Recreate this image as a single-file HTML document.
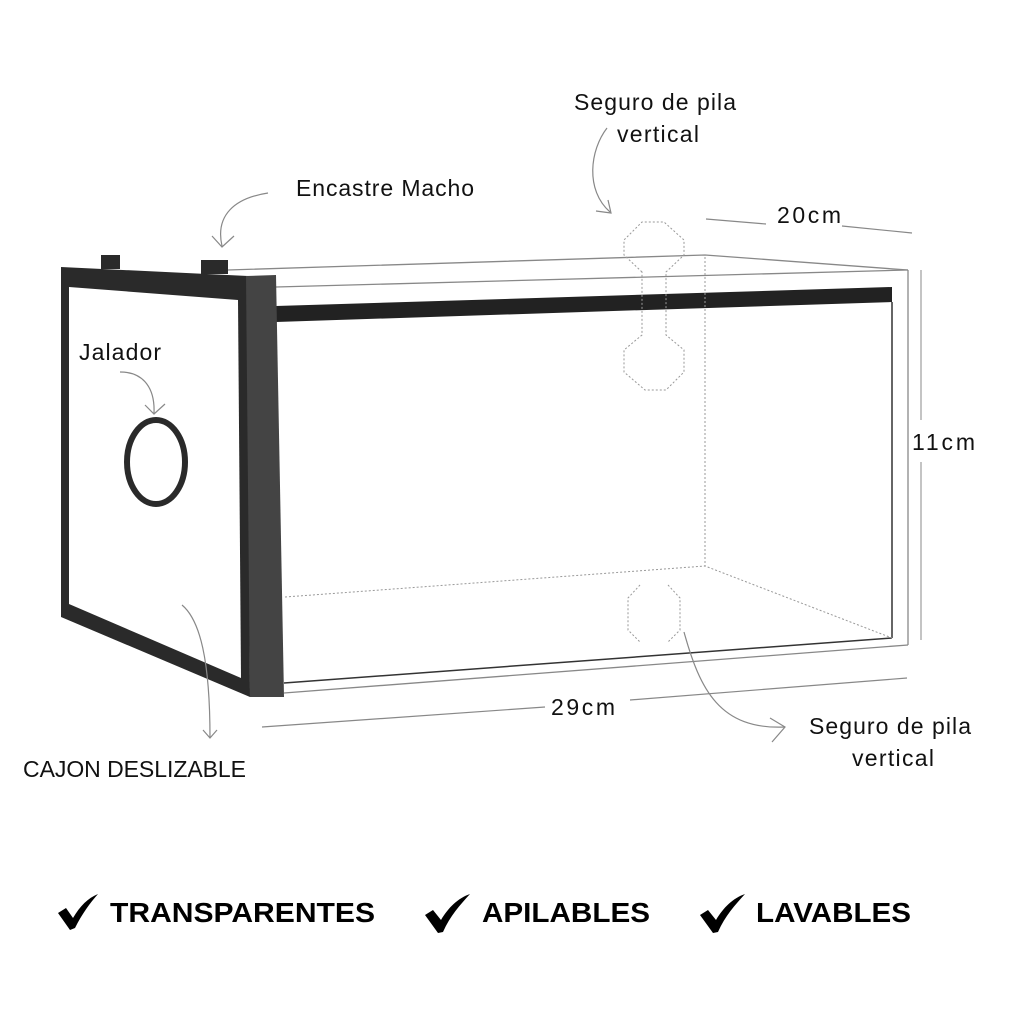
<!DOCTYPE html>
<html><head><meta charset="utf-8"><style>
html,body{margin:0;padding:0;background:#fff;}
svg{display:block}
text{font-family:"Liberation Sans",sans-serif;}
</style></head><body>
<svg width="1024" height="1024" viewBox="0 0 1024 1024" xmlns="http://www.w3.org/2000/svg">
<g fill="none" stroke="#888" stroke-width="1.3">
<polyline points="228,270 705,255 908,270"/>
<line x1="276" y1="287" x2="908" y2="270"/>
<line x1="908" y1="270" x2="908" y2="645"/>
<line x1="284" y1="693" x2="908" y2="645"/>
</g>
<g fill="none" stroke="#333" stroke-width="1.5">
<line x1="892" y1="302" x2="892" y2="638"/>
<line x1="284" y1="683" x2="892" y2="638"/>
</g>
<polygon points="276,306 892,287 892,302 276,322" fill="#222"/>
<g fill="none" stroke="#999" stroke-width="1" stroke-dasharray="2,2">
<line x1="705" y1="257" x2="705" y2="566"/>
<polyline points="285,597 705,566 892,638"/>
<path d="M642,272 L624,255 L624,240 L642,222 L664,222 L684,240 L684,255 L666,272 L666,335 L684,350 L684,372 L666,390 L645,390 L624,372 L624,350 L642,335 Z"/>
<path d="M640,585 L628,598 L628,630 L640,642 M668,585 L680,598 L680,630 L668,642"/>
</g>
<rect x="101" y="255" width="19" height="14" fill="#2a2a2a"/>
<rect x="201" y="260" width="27" height="14" fill="#2a2a2a"/>
<polygon points="61,267 248,276 250,697 61,617" fill="#2a2a2a"/>
<polygon points="69,287 238,300 241,678 69,604" fill="#fff"/>
<polygon points="246,276 276,275 284,697 250,697" fill="#444"/>
<ellipse cx="156" cy="462" rx="29" ry="42" fill="none" stroke="#2a2a2a" stroke-width="6"/>
<g fill="none" stroke="#888" stroke-width="1.2">
<path d="M268,193 C235,198 215,215 222,246"/>
<path d="M212,236 L222,247 L234,236"/>
<path d="M120,372 C145,372 155,390 154,413"/>
<path d="M145,405 L154,414 L165,404"/>
<path d="M182,605 C200,620 210,660 210,738"/>
<path d="M203,730 L210,738 L217,730"/>
<path d="M607,128 C590,150 585,190 610,212"/>
<path d="M596,211 L611,213 L608,200"/>
<path d="M684,632 C700,690 720,730 785,727"/>
<path d="M770,718 L785,727 L772,742"/>
</g>
<g stroke="#888" stroke-width="1.2">
<line x1="706" y1="219" x2="766" y2="224"/>
<line x1="842" y1="226" x2="912" y2="233"/>
<line x1="262" y1="727" x2="545" y2="707"/>
<line x1="630" y1="700" x2="907" y2="678"/>
</g>
<line x1="921" y1="270" x2="921" y2="420" stroke="#888"/>
<line x1="921" y1="462" x2="921" y2="640" stroke="#888"/>
<g font-size="23" fill="#111" lengthAdjust="spacingAndGlyphs">
<text x="574" y="110" textLength="162">Seguro de pila</text>
<text x="617" y="142" textLength="82">vertical</text>
<text x="296" y="196" textLength="178">Encastre Macho</text>
<text x="777" y="223" textLength="64">20cm</text>
<text x="79" y="360" textLength="82">Jalador</text>
<text x="912" y="450" textLength="63">11cm</text>
<text x="551" y="715" textLength="64">29cm</text>
<text x="809" y="734" textLength="162">Seguro de pila</text>
<text x="852" y="766" textLength="82">vertical</text>
<text x="23" y="777" textLength="223">CAJON DESLIZABLE</text>
</g>
<g font-weight="bold" font-size="28" fill="#000">
<text x="110" y="922" textLength="265" lengthAdjust="spacingAndGlyphs">TRANSPARENTES</text>
<text x="482" y="922" textLength="168" lengthAdjust="spacingAndGlyphs">APILABLES</text>
<text x="756" y="922" textLength="155" lengthAdjust="spacingAndGlyphs">LAVABLES</text>
</g>
<g fill="#000">
<path d="M58,913 L66,908 L73,918 C80,906 88,898 98,894 C90,903 82,914 75,928 L70,930 Z"/>
<path d="M425,915 L433,910 L441,920 C448,908 458,898 470,894 C460,905 450,916 443,932 L438,933 Z"/>
<path d="M700,915 L708,910 L716,920 C723,908 733,898 745,894 C735,905 725,916 718,932 L713,933 Z"/>
</g>
</svg>
</body></html>
